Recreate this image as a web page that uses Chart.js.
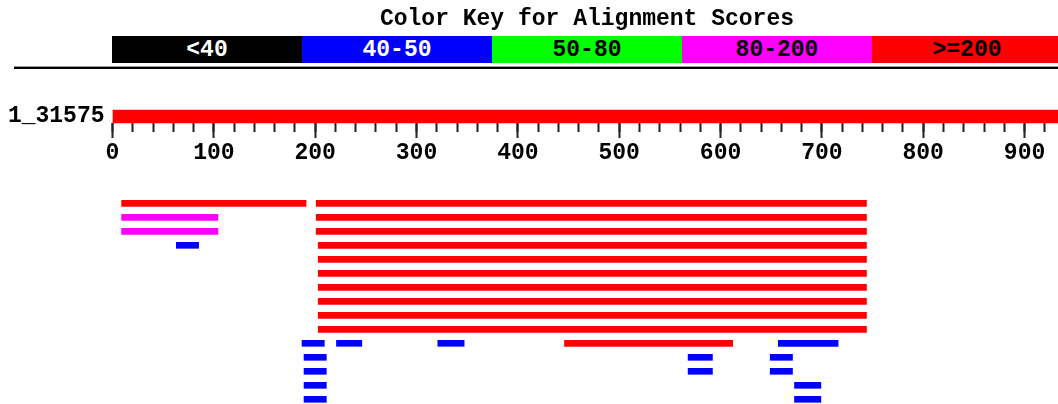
<!DOCTYPE html>
<html>
<head>
<meta charset="utf-8">
<script src="https://cdn.jsdelivr.net/npm/chart.js@4.4.1/dist/chart.umd.min.js"></script>
<style>
  body { margin: 0; background: #fff; }
  #wrap { position: relative; width: 1058px; height: 404px; overflow: hidden; }
  #grafico { position: absolute; left: 0; top: 0; }
  .mono { font-family: 'Liberation Mono', 'DejaVu Sans Mono', monospace; font-weight: bold; font-size: 23px; }
  #titulo { position: absolute; left: 112px; width: 950px; top: 8px; line-height: 23px; text-align: center; color: #000; }
  #chave { position: absolute; left: 112px; top: 36px; height: 27px; display: flex; }
  #chave div { width: 190px; height: 27px; line-height: 28px; text-align: center; }
  #linha { position: absolute; left: 14px; width: 1044px; top: 66px; height: 0; border-top: 1px solid #999; border-bottom: 2px solid #000; }
</style>
</head>
<body>
<div id="wrap">
  <canvas id="grafico" width="1058" height="404"></canvas>
  <div id="titulo" class="mono">Color Key for Alignment Scores</div>
  <div id="chave" class="mono"></div>
  <div id="linha"></div>
</div>
<script>
// Dados da imagem
const nomeConsulta = '1_31575';
const tamanhoConsulta = 933; // visivel ate a borda direita
const faixas = ['<40', '40-50', '50-80', '80-200', '>=200'];
const coresFaixas = ['#000000', '#0000FF', '#00FF00', '#FF00FF', '#FF0000'];
const coresTexto = ['#FFFFFF', '#FFFFFF', '#000000', '#000000', '#000000'];

// Alinhamentos: linha, inicio, fim, faixa (indice em faixas)
const hitLinha  = [0, 0, 1, 1, 2, 2, 3, 3, 4, 5, 6, 7, 8, 9,
                   10, 10, 10, 10, 10, 11, 11, 11, 12, 12, 12, 13, 13, 14, 14];
const hitInicio = [9, 201, 9, 201, 9, 201, 63, 203, 203, 203, 203, 203, 203, 203,
                   187, 221, 321, 446, 657, 189, 568, 649, 189, 568, 649, 189, 673, 189, 673];
const hitFim    = [191, 744, 104, 744, 104, 744, 85, 744, 744, 744, 744, 744, 744, 744,
                   209, 246, 347, 612, 716, 211, 592, 671, 211, 592, 671, 211, 699, 211, 699];
const hitFaixa  = [4, 4, 3, 4, 3, 4, 1, 4, 4, 4, 4, 4, 4, 4,
                   1, 1, 1, 4, 1, 1, 1, 1, 1, 1, 1, 1, 1, 1, 1];

// Posicoes verticais (em "linhas")
const linhaConsulta = -6.2;
const linhaEixo = -5.736;

// Chave de cores em HTML
const chave = document.getElementById('chave');
faixas.forEach(function(f, i) {
    const d = document.createElement('div');
    d.textContent = f;
    d.style.background = coresFaixas[i];
    d.style.color = coresTexto[i];
    chave.appendChild(d);
});

// Um dataset por faixa de score
const datasets = [{
    label: nomeConsulta,
    data: [{ x: [0, tamanhoConsulta], y: linhaConsulta }],
    backgroundColor: '#FF0000',
    barThickness: 13
}];
faixas.forEach(function(f, k) {
    const dados = [];
    for (let i = 0; i < hitLinha.length; i++) {
        if (hitFaixa[i] === k) dados.push({ x: [hitInicio[i], hitFim[i]], y: hitLinha[i] });
    }
    if (dados.length) {
        datasets.push({ label: f, data: dados, backgroundColor: coresFaixas[k], barThickness: 6 });
    }
});

const fonteMono = { family: "'Liberation Mono', 'DejaVu Sans Mono', monospace", weight: 'bold' };

const ctx = document.getElementById('grafico').getContext('2d');
const grafico = new Chart(ctx, {
    type: 'bar',
    data: { datasets: datasets },
    options: {
        responsive: false,
        animation: false,
        indexAxis: 'y',
        layout: { padding: { left: 0, right: 0, top: 20, bottom: 20 } },
        datasets: { bar: { grouped: false, clip: false, borderWidth: 0 } },
        plugins: { legend: { display: false }, tooltip: { enabled: false } },
        scales: {
            x: {
                type: 'linear', min: 0, max: tamanhoConsulta, offset: false,
                position: { y: linhaEixo },
                border: { display: false },
                grid: { drawOnChartArea: false, drawTicks: true, tickLength: 15, tickWidth: 2, tickColor: '#222' },
                ticks: { stepSize: 100, includeBounds: false, autoSkip: false, maxRotation: 0, padding: 1,
                         color: '#000', font: Object.assign({ size: 23 }, fonteMono) }
            },
            xMenor: {
                type: 'linear', min: 0, max: tamanhoConsulta, offset: false,
                position: { y: linhaEixo },
                border: { display: false },
                grid: { drawOnChartArea: false, drawTicks: true, tickLength: 9, tickWidth: 2, tickColor: '#222' },
                ticks: { stepSize: 20, includeBounds: false, display: false }
            },
            y: {
                type: 'linear', reverse: true, offset: false,
                min: -13.093, max: 12.907,
                position: 'left',
                border: { display: false },
                grid: { display: false, drawTicks: false },
                afterFit: function(escala) { escala.width = 112.5; },
                afterBuildTicks: function(escala) { escala.ticks = [{ value: linhaConsulta }]; },
                ticks: {
                    padding: 8, color: '#000',
                    font: Object.assign({ size: 23, lineHeight: 1 }, fonteMono),
                    callback: function() { return nomeConsulta; }
                }
            }
        }
    }
});
</script>
</body>
</html>
